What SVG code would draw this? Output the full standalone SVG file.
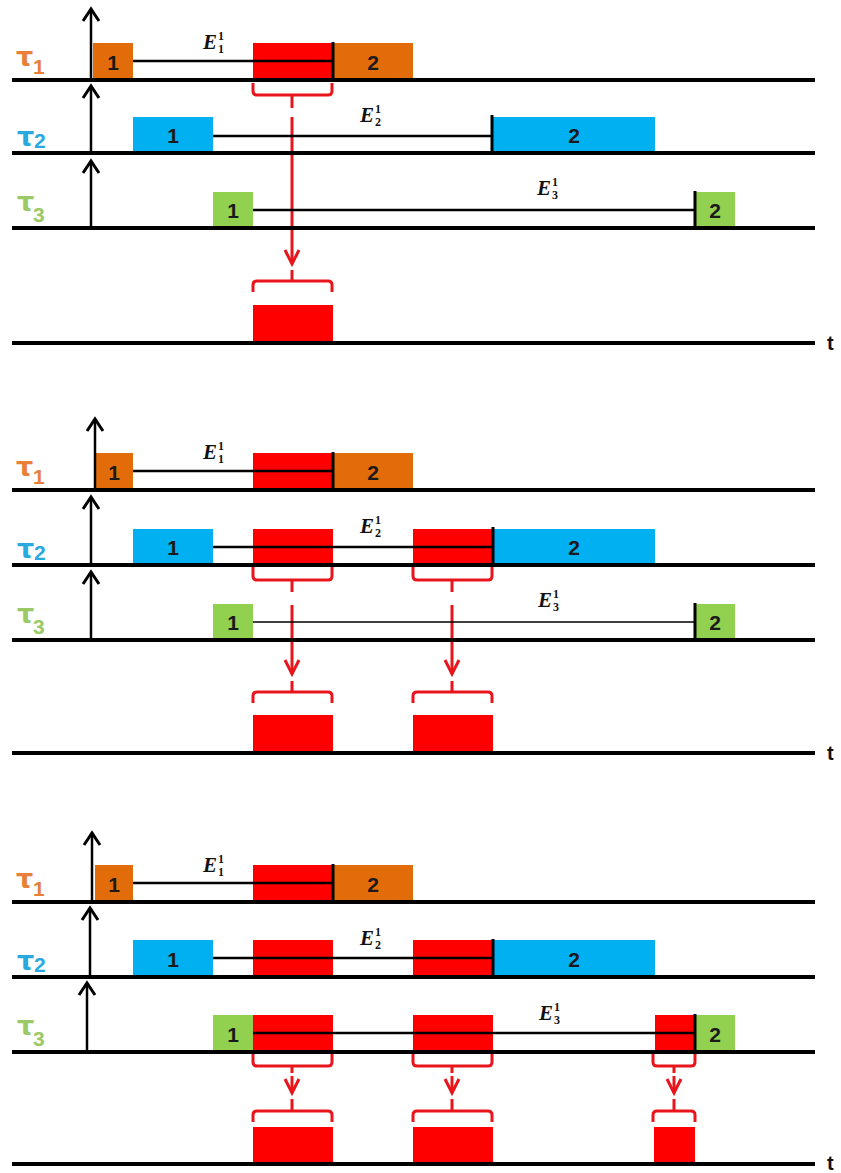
<svg xmlns="http://www.w3.org/2000/svg" width="841" height="1173" viewBox="0 0 841 1173">
<defs>
<marker id="ah" viewBox="-16 -12 20 24" refX="0" refY="0" markerWidth="20" markerHeight="24" markerUnits="userSpaceOnUse" orient="auto" overflow="visible">
<path d="M-12,-8 L0,0 L-12,8" fill="none" stroke="#000" stroke-width="3"/>
</marker>
<marker id="rah" viewBox="-16 -12 20 24" refX="0" refY="0" markerWidth="20" markerHeight="24" markerUnits="userSpaceOnUse" orient="auto" overflow="visible">
<path d="M-14,-7 L0,0 L-14,7" fill="none" stroke="#E8161C" stroke-width="3"/>
</marker>
<style>
.base{stroke:#000;stroke-width:4}
.thin{stroke:#000;stroke-width:2.5}
.thinner{stroke:#000;stroke-width:1.7}
.tick{stroke:#000;stroke-width:3}
.rel{stroke:#000;stroke-width:2.5;marker-end:url(#ah)}
.or{fill:#E36C0A}.bl{fill:#00B0F0}.gr{fill:#92D050}.rd{fill:#FF0000}
.num{font-family:"Liberation Sans",Arial,sans-serif;font-weight:bold;font-size:21px;text-anchor:middle;fill:#1a1a1a}
.tau{font-family:"DejaVu Sans",sans-serif;font-weight:bold;font-size:27px}
.sub{font-family:"Liberation Sans",Arial,sans-serif;font-weight:bold;font-size:21px}
.t1{fill:#E8803A}.t2{fill:#2AA9DF}.t3{fill:#9BC965}
.E{font-family:"Liberation Serif","Times New Roman",serif;font-weight:bold;font-style:italic;font-size:21px;fill:#111}
.sc{font-family:"Liberation Serif","Times New Roman",serif;font-weight:bold;font-style:normal;font-size:12px}
.brace{fill:none;stroke:#E8161C;stroke-width:3;stroke-linejoin:round}
.drop{fill:none;stroke:#E8161C;stroke-width:3;marker-end:url(#rah)}
.tl{font-family:"Liberation Sans",Arial,sans-serif;font-weight:bold;font-size:20px;fill:#111}
</style>
</defs>
<rect width="841" height="1173" fill="#fff"/>

<g id="connectors">
<path class="brace" d="M253,83 V91 Q253,95 257,95 H328 Q332,95 332,91 V83 M292,95 V108"/>
<path class="drop" d="M292,117 V264"/>
<path class="brace" d="M292,270 V281 M253,292 V285 Q253,281 257,281 H328 Q332,281 332,285 V292"/>
<path class="brace" d="M253,567 V576 Q253,580 257,580 H328 Q332,580 332,576 V567 M292,580 V592"/>
<path class="drop" d="M292,605 V674"/>
<path class="brace" d="M292,681 V692 M253,703 V696 Q253,692 257,692 H328 Q332,692 332,696 V703"/>
<path class="brace" d="M413,567 V576 Q413,580 417,580 H488 Q492,580 492,576 V567 M452,580 V592"/>
<path class="drop" d="M452,605 V674"/>
<path class="brace" d="M452,681 V692 M413,703 V696 Q413,692 417,692 H488 Q492,692 492,696 V703"/>
<path class="brace" d="M253,1054 V1062 Q253,1066 257,1066 H328 Q332,1066 332,1062 V1054 M292,1066 V1073"/>
<path class="drop" d="M292,1076 V1093"/>
<path class="brace" d="M292,1099 V1111 M253,1122 V1115 Q253,1111 257,1111 H328 Q332,1111 332,1115 V1122"/>
<path class="brace" d="M413,1054 V1062 Q413,1066 417,1066 H488 Q492,1066 492,1062 V1054 M452,1066 V1073"/>
<path class="drop" d="M452,1076 V1093"/>
<path class="brace" d="M452,1099 V1111 M413,1122 V1115 Q413,1111 417,1111 H488 Q492,1111 492,1115 V1122"/>
<path class="brace" d="M653,1054 V1062 Q653,1066 657,1066 H691 Q695,1066 695,1062 V1054 M674,1066 V1073"/>
<path class="drop" d="M674,1076 V1093"/>
<path class="brace" d="M674,1099 V1111 M653,1122 V1115 Q653,1111 657,1111 H691 Q695,1111 695,1115 V1122"/>
</g>

<g id="p1-tau1">
<text class="tau t1" x="16" y="66">τ</text><text class="sub t1" x="33" y="74">1</text>
<rect class="or" x="93" y="43" width="40" height="37"/><text class="num" x="113" y="70">1</text>
<rect class="rd" x="253" y="43" width="80" height="37"/>
<rect class="or" x="333" y="43" width="80" height="37"/><text class="num" x="373" y="70">2</text>
<line class="thin" x1="133" y1="61" x2="333" y2="61"/>
<line class="tick" x1="333" y1="42" x2="333" y2="80"/>
<text class="E" x="203" y="49">E<tspan class="sc" x="218" y="40">1</tspan><tspan class="sc" x="218" y="53">1</tspan></text>
<line class="rel" x1="91" y1="80" x2="91" y2="9"/>
<line class="base" x1="12" y1="80" x2="815" y2="80"/>
</g>
<g id="p1-tau2">
<text class="tau t2" x="17" y="146">τ</text><text class="sub t2" x="34" y="148">2</text>
<rect class="bl" x="133" y="117" width="80" height="36"/><text class="num" x="173" y="143">1</text>
<line class="thin" x1="213" y1="136" x2="492" y2="136"/>
<rect class="bl" x="493" y="117" width="162" height="36"/><text class="num" x="574" y="143">2</text>
<line class="tick" x1="492" y1="115" x2="492" y2="153"/>
<text class="E" x="360" y="122">E<tspan class="sc" x="375" y="113">1</tspan><tspan class="sc" x="375" y="126">2</tspan></text>
<line class="rel" x1="91" y1="153" x2="91" y2="86"/>
<line class="base" x1="12" y1="153" x2="815" y2="153"/>
</g>
<g id="p1-tau3">
<text class="tau t3" x="17" y="211">τ</text><text class="sub t3" x="33" y="222">3</text>
<rect class="gr" x="213" y="192" width="40" height="36"/><text class="num" x="233" y="218">1</text>
<line class="thin" x1="253" y1="210" x2="695" y2="210"/>
<rect class="gr" x="695" y="192" width="40" height="36"/><text class="num" x="715" y="218">2</text>
<line class="tick" x1="695" y1="191" x2="695" y2="228"/>
<text class="E" x="537" y="195">E<tspan class="sc" x="552" y="186">1</tspan><tspan class="sc" x="552" y="199">3</tspan></text>
<line class="rel" x1="91" y1="228" x2="91" y2="161"/>
<line class="base" x1="12" y1="228" x2="815" y2="228"/>
</g>
<g id="p1-out">
<rect class="rd" x="253" y="305" width="80" height="37"/>
<line class="base" x1="12" y1="343" x2="815" y2="343"/>
<text class="tl" x="827" y="350">t</text>
</g>

<g id="p2-tau1">
<text class="tau t1" x="16" y="476">τ</text><text class="sub t1" x="33" y="484">1</text>
<rect class="or" x="95" y="453" width="38" height="37"/><text class="num" x="114" y="480">1</text>
<rect class="rd" x="253" y="453" width="80" height="37"/>
<rect class="or" x="333" y="453" width="80" height="37"/><text class="num" x="373" y="480">2</text>
<line class="thin" x1="133" y1="471" x2="333" y2="471"/>
<line class="tick" x1="333" y1="452" x2="333" y2="490"/>
<text class="E" x="203" y="459">E<tspan class="sc" x="218" y="450">1</tspan><tspan class="sc" x="218" y="463">1</tspan></text>
<line class="rel" x1="95" y1="490" x2="95" y2="419"/>
<line class="base" x1="12" y1="490" x2="815" y2="490"/>
</g>
<g id="p2-tau2">
<text class="tau t2" x="17" y="558">τ</text><text class="sub t2" x="34" y="560">2</text>
<rect class="bl" x="133" y="529" width="80" height="36"/><text class="num" x="173" y="555">1</text>
<rect class="rd" x="253" y="529" width="80" height="36"/>
<rect class="rd" x="413" y="529" width="80" height="36"/>
<line class="thin" x1="213" y1="547" x2="493" y2="547"/>
<rect class="bl" x="493" y="529" width="162" height="36"/><text class="num" x="574" y="555">2</text>
<line class="tick" x1="493" y1="527" x2="493" y2="565"/>
<text class="E" x="360" y="533">E<tspan class="sc" x="375" y="524">1</tspan><tspan class="sc" x="375" y="537">2</tspan></text>
<line class="rel" x1="91" y1="565" x2="91" y2="497"/>
<line class="base" x1="12" y1="565" x2="815" y2="565"/>
</g>
<g id="p2-tau3">
<text class="tau t3" x="17" y="623">τ</text><text class="sub t3" x="33" y="634">3</text>
<rect class="gr" x="213" y="604" width="40" height="36"/><text class="num" x="233" y="630">1</text>
<line class="thinner" x1="253" y1="622" x2="695" y2="622"/>
<rect class="gr" x="695" y="604" width="40" height="36"/><text class="num" x="715" y="630">2</text>
<line class="tick" x1="695" y1="603" x2="695" y2="640"/>
<text class="E" x="538" y="607">E<tspan class="sc" x="553" y="598">1</tspan><tspan class="sc" x="553" y="611">3</tspan></text>
<line class="rel" x1="91" y1="640" x2="91" y2="572"/>
<line class="base" x1="12" y1="640" x2="815" y2="640"/>
</g>
<g id="p2-out">
<rect class="rd" x="253" y="715" width="80" height="37"/>
<rect class="rd" x="413" y="715" width="80" height="37"/>
<line class="base" x1="12" y1="753" x2="815" y2="753"/>
<text class="tl" x="827" y="760">t</text>
</g>

<g id="p3-tau1">
<text class="tau t1" x="16" y="888">τ</text><text class="sub t1" x="33" y="896">1</text>
<rect class="or" x="95" y="865" width="38" height="37"/><text class="num" x="114" y="892">1</text>
<rect class="rd" x="253" y="865" width="80" height="37"/>
<rect class="or" x="333" y="865" width="80" height="37"/><text class="num" x="373" y="892">2</text>
<line class="thin" x1="133" y1="883" x2="333" y2="883"/>
<line class="tick" x1="333" y1="864" x2="333" y2="902"/>
<text class="E" x="203" y="872">E<tspan class="sc" x="218" y="863">1</tspan><tspan class="sc" x="218" y="876">1</tspan></text>
<line class="rel" x1="92" y1="902" x2="92" y2="833"/>
<line class="base" x1="12" y1="902" x2="815" y2="902"/>
</g>
<g id="p3-tau2">
<text class="tau t2" x="17" y="970">τ</text><text class="sub t2" x="34" y="972">2</text>
<rect class="bl" x="133" y="940" width="80" height="37"/><text class="num" x="173" y="967">1</text>
<rect class="rd" x="253" y="940" width="80" height="37"/>
<rect class="rd" x="413" y="940" width="80" height="37"/>
<line class="thin" x1="213" y1="958" x2="493" y2="958"/>
<rect class="bl" x="493" y="940" width="162" height="37"/><text class="num" x="574" y="967">2</text>
<line class="tick" x1="493" y1="939" x2="493" y2="977"/>
<text class="E" x="360" y="945">E<tspan class="sc" x="375" y="936">1</tspan><tspan class="sc" x="375" y="949">2</tspan></text>
<line class="rel" x1="90" y1="977" x2="90" y2="908"/>
<line class="base" x1="12" y1="977" x2="815" y2="977"/>
</g>
<g id="p3-tau3">
<text class="tau t3" x="17" y="1035">τ</text><text class="sub t3" x="33" y="1046">3</text>
<rect class="gr" x="213" y="1015" width="40" height="37"/><text class="num" x="233" y="1042">1</text>
<rect class="rd" x="253" y="1015" width="80" height="37"/>
<rect class="rd" x="413" y="1015" width="80" height="37"/>
<rect class="rd" x="655" y="1015" width="40" height="37"/>
<line class="thin" x1="253" y1="1033" x2="695" y2="1033"/>
<rect class="gr" x="695" y="1015" width="40" height="37"/><text class="num" x="715" y="1042">2</text>
<line class="tick" x1="695" y1="1014" x2="695" y2="1052"/>
<text class="E" x="539" y="1020">E<tspan class="sc" x="554" y="1011">1</tspan><tspan class="sc" x="554" y="1024">3</tspan></text>
<line class="rel" x1="87" y1="1052" x2="87" y2="983"/>
<line class="base" x1="12" y1="1052" x2="815" y2="1052"/>
</g>
<g id="p3-out">
<rect class="rd" x="253" y="1127" width="80" height="37"/>
<rect class="rd" x="413" y="1127" width="80" height="37"/>
<rect class="rd" x="654" y="1127" width="41" height="37"/>
<line class="base" x1="12" y1="1164" x2="815" y2="1164"/>
<text class="tl" x="827" y="1170">t</text>
</g>
</svg>
